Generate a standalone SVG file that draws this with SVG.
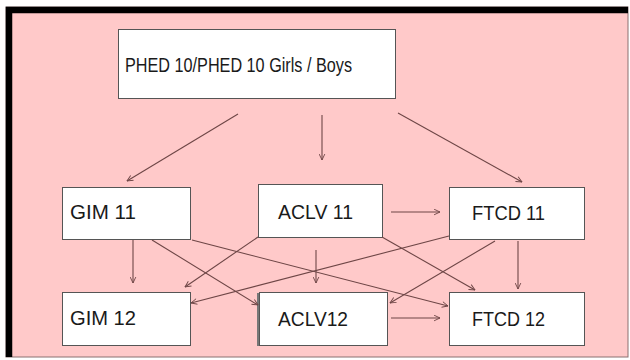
<svg xmlns="http://www.w3.org/2000/svg" width="630" height="360" viewBox="0 0 630 360">
<defs>
<marker id="arr" viewBox="0 0 10 10" refX="9.5" refY="5" markerWidth="7" markerHeight="7" markerUnits="userSpaceOnUse" orient="auto">
<path d="M1,1 L9.5,5 L1,9" fill="none" stroke="#6e4646" stroke-width="1.3"/>
</marker>
</defs>
<style>
.box{fill:#ffffff;stroke:#555555;stroke-width:1}
.lbl{font-family:"Liberation Sans",Arial,sans-serif;font-size:20px;fill:#1a1a1a}
.con{fill:none;stroke:#6e4646;stroke-width:1.1;marker-end:url(#arr)}
</style>
<rect x="0" y="0" width="630" height="360" fill="#ffffff"/>
<rect x="6" y="7" width="622" height="350" fill="#ffc9c9" stroke="#8a7070" stroke-width="1"/>
<path d="M9,357 L9,10 L628,10" fill="none" stroke="#000000" stroke-width="6.5"/>
<g id="top">
<rect class="box" x="118.5" y="29.5" width="277" height="69"/>
<text class="lbl" x="125" y="72" textLength="227" lengthAdjust="spacingAndGlyphs">PHED 10/PHED 10 Girls / Boys</text>
</g>
<g id="gim11">
<rect class="box" x="62.5" y="187.5" width="128" height="52"/>
<text class="lbl" x="70" y="219" textLength="66" lengthAdjust="spacingAndGlyphs">GIM 11</text>
</g>
<g id="aclv11">
<rect class="box" x="258.5" y="184.5" width="124" height="53"/>
<text class="lbl" x="278" y="219" textLength="75" lengthAdjust="spacingAndGlyphs">ACLV 11</text>
</g>
<g id="ftcd11">
<rect class="box" x="449.5" y="187.5" width="135" height="52"/>
<text class="lbl" x="472" y="220" textLength="73" lengthAdjust="spacingAndGlyphs">FTCD 11</text>
</g>
<g id="gim12">
<rect class="box" x="62.5" y="292.5" width="128" height="53"/>
<text class="lbl" x="70" y="325" textLength="66" lengthAdjust="spacingAndGlyphs">GIM 12</text>
</g>
<g id="aclv12">
<rect x="257" y="293" width="130" height="53" fill="#777777"/>
<rect class="box" x="259.5" y="292.5" width="128" height="53"/>
<text class="lbl" x="278" y="326" textLength="70" lengthAdjust="spacingAndGlyphs">ACLV12</text>
</g>
<g id="ftcd12">
<rect class="box" x="449.5" y="292.5" width="135" height="53"/>
<text class="lbl" x="472" y="326" textLength="73" lengthAdjust="spacingAndGlyphs">FTCD 12</text>
</g>
<g id="connectors">
<line class="con" x1="238" y1="114" x2="127" y2="181"/>
<line class="con" x1="322" y1="115" x2="322" y2="160"/>
<line class="con" x1="398" y1="113" x2="522" y2="182"/>
<line class="con" x1="391" y1="212" x2="440" y2="212"/>
<line class="con" x1="391" y1="318" x2="440" y2="318"/>
<line class="con" x1="133" y1="240" x2="133" y2="283"/>
<line class="con" x1="152" y1="240" x2="258" y2="305"/>
<line class="con" x1="192" y1="240" x2="448" y2="306"/>
<line class="con" x1="258" y1="237" x2="185" y2="287"/>
<line class="con" x1="449" y1="236" x2="191" y2="303"/>
<line class="con" x1="316" y1="250" x2="316" y2="283"/>
<line class="con" x1="382" y1="237" x2="475" y2="290"/>
<line class="con" x1="495" y1="241" x2="390" y2="303"/>
<line class="con" x1="518" y1="241" x2="518" y2="289"/>
</g>
</svg>
